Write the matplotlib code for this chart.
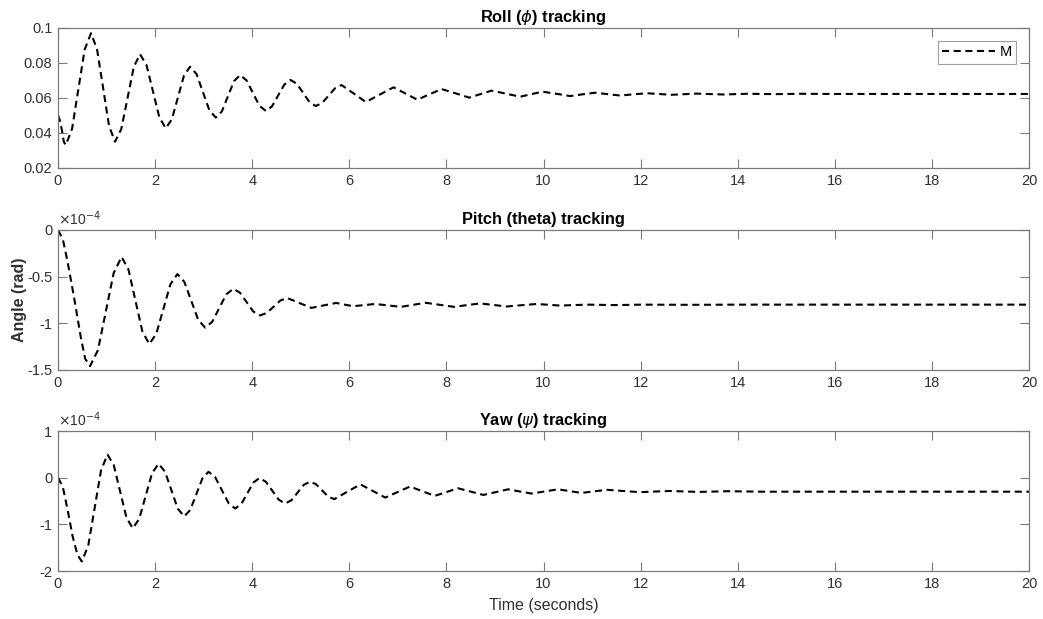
import numpy as np
import matplotlib
matplotlib.use("Agg")
import matplotlib.pyplot as plt
from matplotlib.ticker import FixedLocator, FixedFormatter

plt.rcParams["font.family"] = ["Liberation Sans", "DejaVu Sans"]
plt.rcParams["axes.unicode_minus"] = False
plt.rcParams["mathtext.fontset"] = "dejavusans"

# ---- Roll angle response (rad) ----
roll_t = [0.0, 0.04, 0.08, 0.12, 0.16, 0.29, 0.42, 0.55, 0.68, 0.804, 0.928, 1.051,
          1.175, 1.304, 1.433, 1.561, 1.69, 1.823, 1.955, 2.088, 2.22, 2.345, 2.47,
          2.595, 2.72, 2.853, 2.985, 3.118, 3.25, 3.375, 3.5, 3.625, 3.75, 3.883,
          4.015, 4.148, 4.28, 4.408, 4.535, 4.663, 4.79, 4.92, 5.05, 5.18, 5.31,
          5.443, 5.575, 5.708, 5.84, 6.09, 6.34, 6.625, 6.91, 7.155, 7.40, 7.65,
          7.90, 8.185, 8.47, 8.70, 8.93, 9.225, 9.52, 9.75, 9.98, 10.265, 10.55,
          10.805, 11.06, 11.32, 11.58, 11.855, 12.13, 12.375, 12.62, 13.15, 13.7,
          14.2, 14.8, 15.3, 16.0, 17.0, 18.0, 19.0, 20.0]
roll_v = [0.0503, 0.0470, 0.0417, 0.0350, 0.0331, 0.0424, 0.0651, 0.0877, 0.0970,
          0.0879, 0.0660, 0.0441, 0.0350, 0.0423, 0.0600, 0.0777, 0.0850, 0.0788,
          0.0639, 0.0489, 0.0427, 0.0478, 0.0603, 0.0728, 0.0779, 0.0737, 0.0634,
          0.0530, 0.0488, 0.0523, 0.0610, 0.0696, 0.0731, 0.0701, 0.0629, 0.0556,
          0.0526, 0.0552, 0.0615, 0.0677, 0.0703, 0.0681, 0.0629, 0.0576, 0.0554,
          0.0572, 0.0614, 0.0656, 0.0674, 0.0626, 0.0577, 0.0619, 0.0661, 0.0626,
          0.0590, 0.0621, 0.0651, 0.0627, 0.0602, 0.0622, 0.0642, 0.0625, 0.0607,
          0.0622, 0.0636, 0.0624, 0.0611, 0.0621, 0.0630, 0.0622, 0.0614, 0.0621,
          0.0627, 0.0623, 0.0618, 0.0625, 0.0620, 0.0624, 0.0622, 0.0624, 0.0623,
          0.0623, 0.0623, 0.0623, 0.0623]

# ---- Pitch angle response (x1e-4 rad) ----
pitch_t = [0.0, 0.1, 0.19, 0.33, 0.47, 0.56, 0.66, 0.8225, 0.985, 1.1475, 1.31,
           1.4525, 1.595, 1.7375, 1.88, 2.025, 2.17, 2.315, 2.46, 2.6025, 2.745,
           2.8875, 3.03, 3.175, 3.32, 3.465, 3.61, 3.7475, 3.885, 4.0225, 4.16,
           4.30, 4.44, 4.58, 4.72, 4.97, 5.22, 5.475, 5.73, 5.905, 6.08, 6.305,
           6.53, 6.795, 7.06, 7.315, 7.57, 7.865, 8.16, 8.425, 8.69, 8.965, 9.24,
           9.55, 9.86, 10.34, 10.9, 11.5, 12.0, 13.0, 14.0, 15.0, 16.0, 17.0,
           18.0, 19.0, 20.0]
pitch_v = [0.0, -0.10, -0.32, -0.72, -1.15, -1.38, -1.459, -1.288, -0.874, -0.460,
           -0.289, -0.425, -0.756, -1.086, -1.222, -1.112, -0.847, -0.582, -0.472,
           -0.556, -0.759, -0.962, -1.046, -0.985, -0.838, -0.691, -0.630, -0.672,
           -0.773, -0.874, -0.916, -0.889, -0.823, -0.756, -0.729, -0.782, -0.835,
           -0.808, -0.782, -0.800, -0.817, -0.805, -0.793, -0.808, -0.824, -0.802,
           -0.780, -0.802, -0.824, -0.805, -0.787, -0.803, -0.820, -0.806, -0.793,
           -0.810, -0.800, -0.805, -0.800, -0.802, -0.800, -0.800, -0.800, -0.800,
           -0.800, -0.800, -0.800]

# ---- Yaw angle response (x1e-4 rad) ----
yaw_t = [0.0, 0.1, 0.2, 0.3, 0.4, 0.49, 0.6225, 0.755, 0.8875, 1.02, 1.15, 1.28,
         1.41, 1.54, 1.6725, 1.805, 1.9375, 2.07, 2.2025, 2.335, 2.4675, 2.60,
         2.725, 2.85, 2.975, 3.10, 3.2375, 3.375, 3.5125, 3.65, 3.775, 3.9, 4.025,
         4.15, 4.2825, 4.415, 4.5475, 4.68, 4.8075, 4.935, 5.0625, 5.19, 5.315,
         5.44, 5.565, 5.69, 5.96, 6.23, 6.485, 6.74, 6.995, 7.25, 7.505, 7.76, 8.0,
         8.24, 8.5, 8.76, 9.015, 9.27, 9.51, 9.75, 10.025, 10.30, 10.54, 10.78,
         11.04, 11.30, 11.64, 11.98, 12.6, 13.2, 13.8, 14.5, 15.0, 16.0, 17.0,
         18.0, 19.0, 20.0]
yaw_v = [0.0, -0.20, -0.70, -1.25, -1.65, -1.795, -1.460, -0.650, 0.161, 0.496,
         0.265, -0.295, -0.854, -1.085, -0.883, -0.394, 0.096, 0.298, 0.133,
         -0.266, -0.665, -0.830, -0.690, -0.352, -0.013, 0.127, 0.012, -0.267,
         -0.545, -0.660, -0.565, -0.334, -0.103, -0.008, -0.088, -0.281, -0.473,
         -0.553, -0.485, -0.319, -0.153, -0.085, -0.140, -0.273, -0.405, -0.460,
         -0.300, -0.143, -0.285, -0.426, -0.308, -0.190, -0.290, -0.390, -0.308,
         -0.227, -0.298, -0.370, -0.310, -0.249, -0.295, -0.340, -0.295, -0.249,
         -0.288, -0.327, -0.293, -0.260, -0.285, -0.310, -0.285, -0.305, -0.290,
         -0.300, -0.300, -0.300, -0.300, -0.300, -0.300, -0.300]

SCALE = 1e-4
x_ticks = list(range(0, 21, 2))
roll_ticks = [0.02, 0.04, 0.06, 0.08, 0.1]
roll_labels = ["0.02", "0.04", "0.06", "0.08", "0.1"]
pitch_ticks = [-1.5, -1.0, -0.5, 0.0]
pitch_labels = ["-1.5", "-1", "-0.5", "0"]
yaw_ticks = [-2.0, -1.0, 0.0, 1.0]
yaw_labels = ["-2", "-1", "0", "1"]

TXT = "#303030"
AX = "#7a7a7a"

fig = plt.figure(figsize=(10.43, 6.19), dpi=100)
left, width, height = 0.0556, 0.9310, 0.2262
bottoms = [0.7286, 0.4023, 0.0775]
axes = [fig.add_axes([left, b, width, height]) for b in bottoms]

line_kw = dict(color="black", lw=1.5, linestyle=(0, (3.4, 2.2)))


def style(ax, yticks, ylabels, ylim):
    ax.set_xlim(0, 20)
    ax.set_ylim(*ylim)
    ax.xaxis.set_major_locator(FixedLocator(x_ticks))
    ax.xaxis.set_major_formatter(FixedFormatter([str(v) for v in x_ticks]))
    ax.yaxis.set_major_locator(FixedLocator(yticks))
    ax.yaxis.set_major_formatter(FixedFormatter(ylabels))
    ax.tick_params(direction="in", length=6.5, width=0.8, colors=AX,
                   labelcolor=TXT, labelsize=10.5, top=True, right=True, pad=4)
    for s in ax.spines.values():
        s.set_color(AX)
        s.set_linewidth(0.9)


ax1, ax2, ax3 = axes
title_kw = dict(fontsize=11.8, fontweight="bold", color="black", pad=4)

ax1.plot(roll_t, roll_v, label="M", **line_kw)
style(ax1, roll_ticks, roll_labels, (0.02, 0.1))
ax1.set_title(r"Roll ($\phi$) tracking", **title_kw)
leg = ax1.legend(loc="upper right", fontsize=10.5, handlelength=3.6,
                 fancybox=False, framealpha=1, borderpad=0.3,
                 handletextpad=0.3, borderaxespad=0.9)
leg.get_frame().set_edgecolor("#a0a0a0")
leg.get_frame().set_linewidth(0.8)

ax2.plot(pitch_t, np.array(pitch_v) * SCALE, **line_kw)
style(ax2, [v * SCALE for v in pitch_ticks], pitch_labels, (-1.5 * SCALE, 0))
ax2.set_title("Pitch (theta) tracking", **title_kw)

ax3.plot(yaw_t, np.array(yaw_v) * SCALE, **line_kw)
style(ax3, [v * SCALE for v in yaw_ticks], yaw_labels, (-2 * SCALE, 1 * SCALE))
ax3.set_title(r"Yaw ($\psi$) tracking", **title_kw)
ax3.set_xlabel("Time (seconds)", fontsize=11.5, color=TXT, labelpad=5)

for ax in (ax2, ax3):
    ax.text(0.0, 1.015, r"$\times$10$^{-4}$", transform=ax.transAxes,
            fontsize=10, color=TXT, ha="left", va="bottom")

fig.text(0.019, (0.4023 + 0.63) / 2, "Angle (rad)", rotation=90, fontsize=11.5,
         fontweight="bold", color=TXT, ha="center", va="center")

fig.savefig("out.png", dpi=100)
